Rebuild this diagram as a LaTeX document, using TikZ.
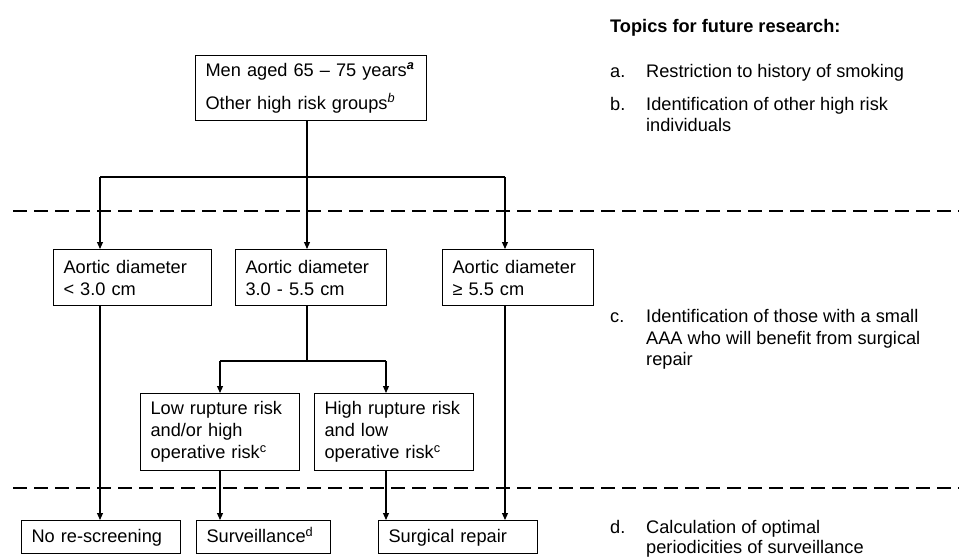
\documentclass[tikz,border=0pt]{standalone}
\usepackage{fontspec}
\setmainfont{Liberation Sans}
\usetikzlibrary{arrows.meta}
\begin{document}
\begin{tikzpicture}[x=1pt,y=-1pt,
  font=\fontsize{18.2pt}{22pt}\selectfont,
  box/.style={draw, line width=1.1pt, inner xsep=10pt, inner ysep=0pt, align=left, anchor=north west},
  onebox/.style={box, text height=13pt, text depth=2.5pt, minimum height=33pt},
  arr/.style={line width=1.1pt, -{Triangle[width=6pt,length=7pt]}},
  conn/.style={line width=1.1pt},
  sep/.style={line width=2.2pt, dash pattern=on 14pt off 7pt},
  txt/.style={anchor=base west, inner sep=0pt}]
\useasboundingbox (0,0) rectangle (959,559);

% boxes
\node[box, text width=211pt, minimum height=65pt] (top) at (195,55)
  {Men aged 65 -- 75 years\textsuperscript{\textit{\textbf{a}}}\\[11pt]Other high risk groups\textsuperscript{\textit{b}}};
\node[box, text width=138pt, minimum height=56pt] (l1) at (53,249) {Aortic diameter\\< 3.0 cm};
\node[box, text width=131pt, minimum height=56pt] (m1) at (235,249) {Aortic diameter\\3.0 - 5.5 cm};
\node[box, text width=131pt, minimum height=56pt] (r1) at (442,249) {Aortic diameter\\≥ 5.5 cm};
\node[box, text width=139pt, minimum height=77pt] (lr) at (140,393) {Low rupture risk\\and/or high\\operative risk\textsuperscript{c}};
\node[box, text width=139pt, minimum height=77pt] (hr) at (314,393) {High rupture risk\\and low\\operative risk\textsuperscript{c}};
\node[onebox, text width=139pt] (b1) at (21,520) {No re-screening};
\node[onebox, text width=114pt] (b2) at (196,520) {Surveillance\textsuperscript{d}};
\node[onebox, text width=139pt] (b3) at (378,520) {Surgical repair};

% separators
\coordinate (s1a) at (13,211); \coordinate (s1b) at (959,211);
\coordinate (s2a) at (13,488); \coordinate (s2b) at (959,488);
\draw[sep] (s1a) -- (s1b);
\draw[sep] (s2a) -- (s2b);

% connectors top
\coordinate (j1) at (307,177);
\coordinate (jl) at (100,177);
\coordinate (jr) at (505,177);
\draw[conn] (top.south -| j1) -- (j1);
\draw[conn] (jl) -- (jr);
\draw[arr] (jl) -- (jl |- l1.north);
\draw[arr] (j1) -- (j1 |- m1.north);
\draw[arr] (jr) -- (jr |- r1.north);

% middle split
\coordinate (j2) at (307,361);
\coordinate (j2l) at (220,361);
\coordinate (j2r) at (386,361);
\draw[conn] (m1.south -| j2) -- (j2);
\draw[conn] (j2l) -- (j2r);
\draw[arr] (j2l) -- (j2l |- lr.north);
\draw[arr] (j2r) -- (j2r |- hr.north);

% to bottom
\draw[arr] (l1.south -| jl) -- (jl |- b1.north);
\draw[arr] (lr.south -| j2l) -- (j2l |- b2.north);
\draw[arr] (hr.south -| j2r) -- (j2r |- b3.north);
\draw[arr] (r1.south -| jr) -- (jr |- b3.north);

% right column
\node[txt, font=\fontsize{18.2pt}{22pt}\selectfont\bfseries] (topics) at (610,33) {Topics for future research:};
\node[txt] (la) at (610,78) {a.};
\node[txt] (ta) at (646,78) {Restriction to history of smoking};
\node[txt] (lb) at (610,111) {b.};
\node[txt] (tb1) at (646,111) {Identification of other high risk};
\node[txt] (tb2) at (646,132) {individuals};
\node[txt] (lc) at (610,322) {c.};
\node[txt] (tc1) at (646,322) {Identification of those with a small};
\node[txt] (tc2) at (646,344) {AAA who will benefit from surgical};
\node[txt] (tc3) at (646,365) {repair};
\node[txt] (ld) at (610,533) {d.};
\node[txt] (td1) at (646,533) {Calculation of optimal};
\node[txt] (td2) at (646,553) {periodicities of surveillance};
\end{tikzpicture}
\end{document}
